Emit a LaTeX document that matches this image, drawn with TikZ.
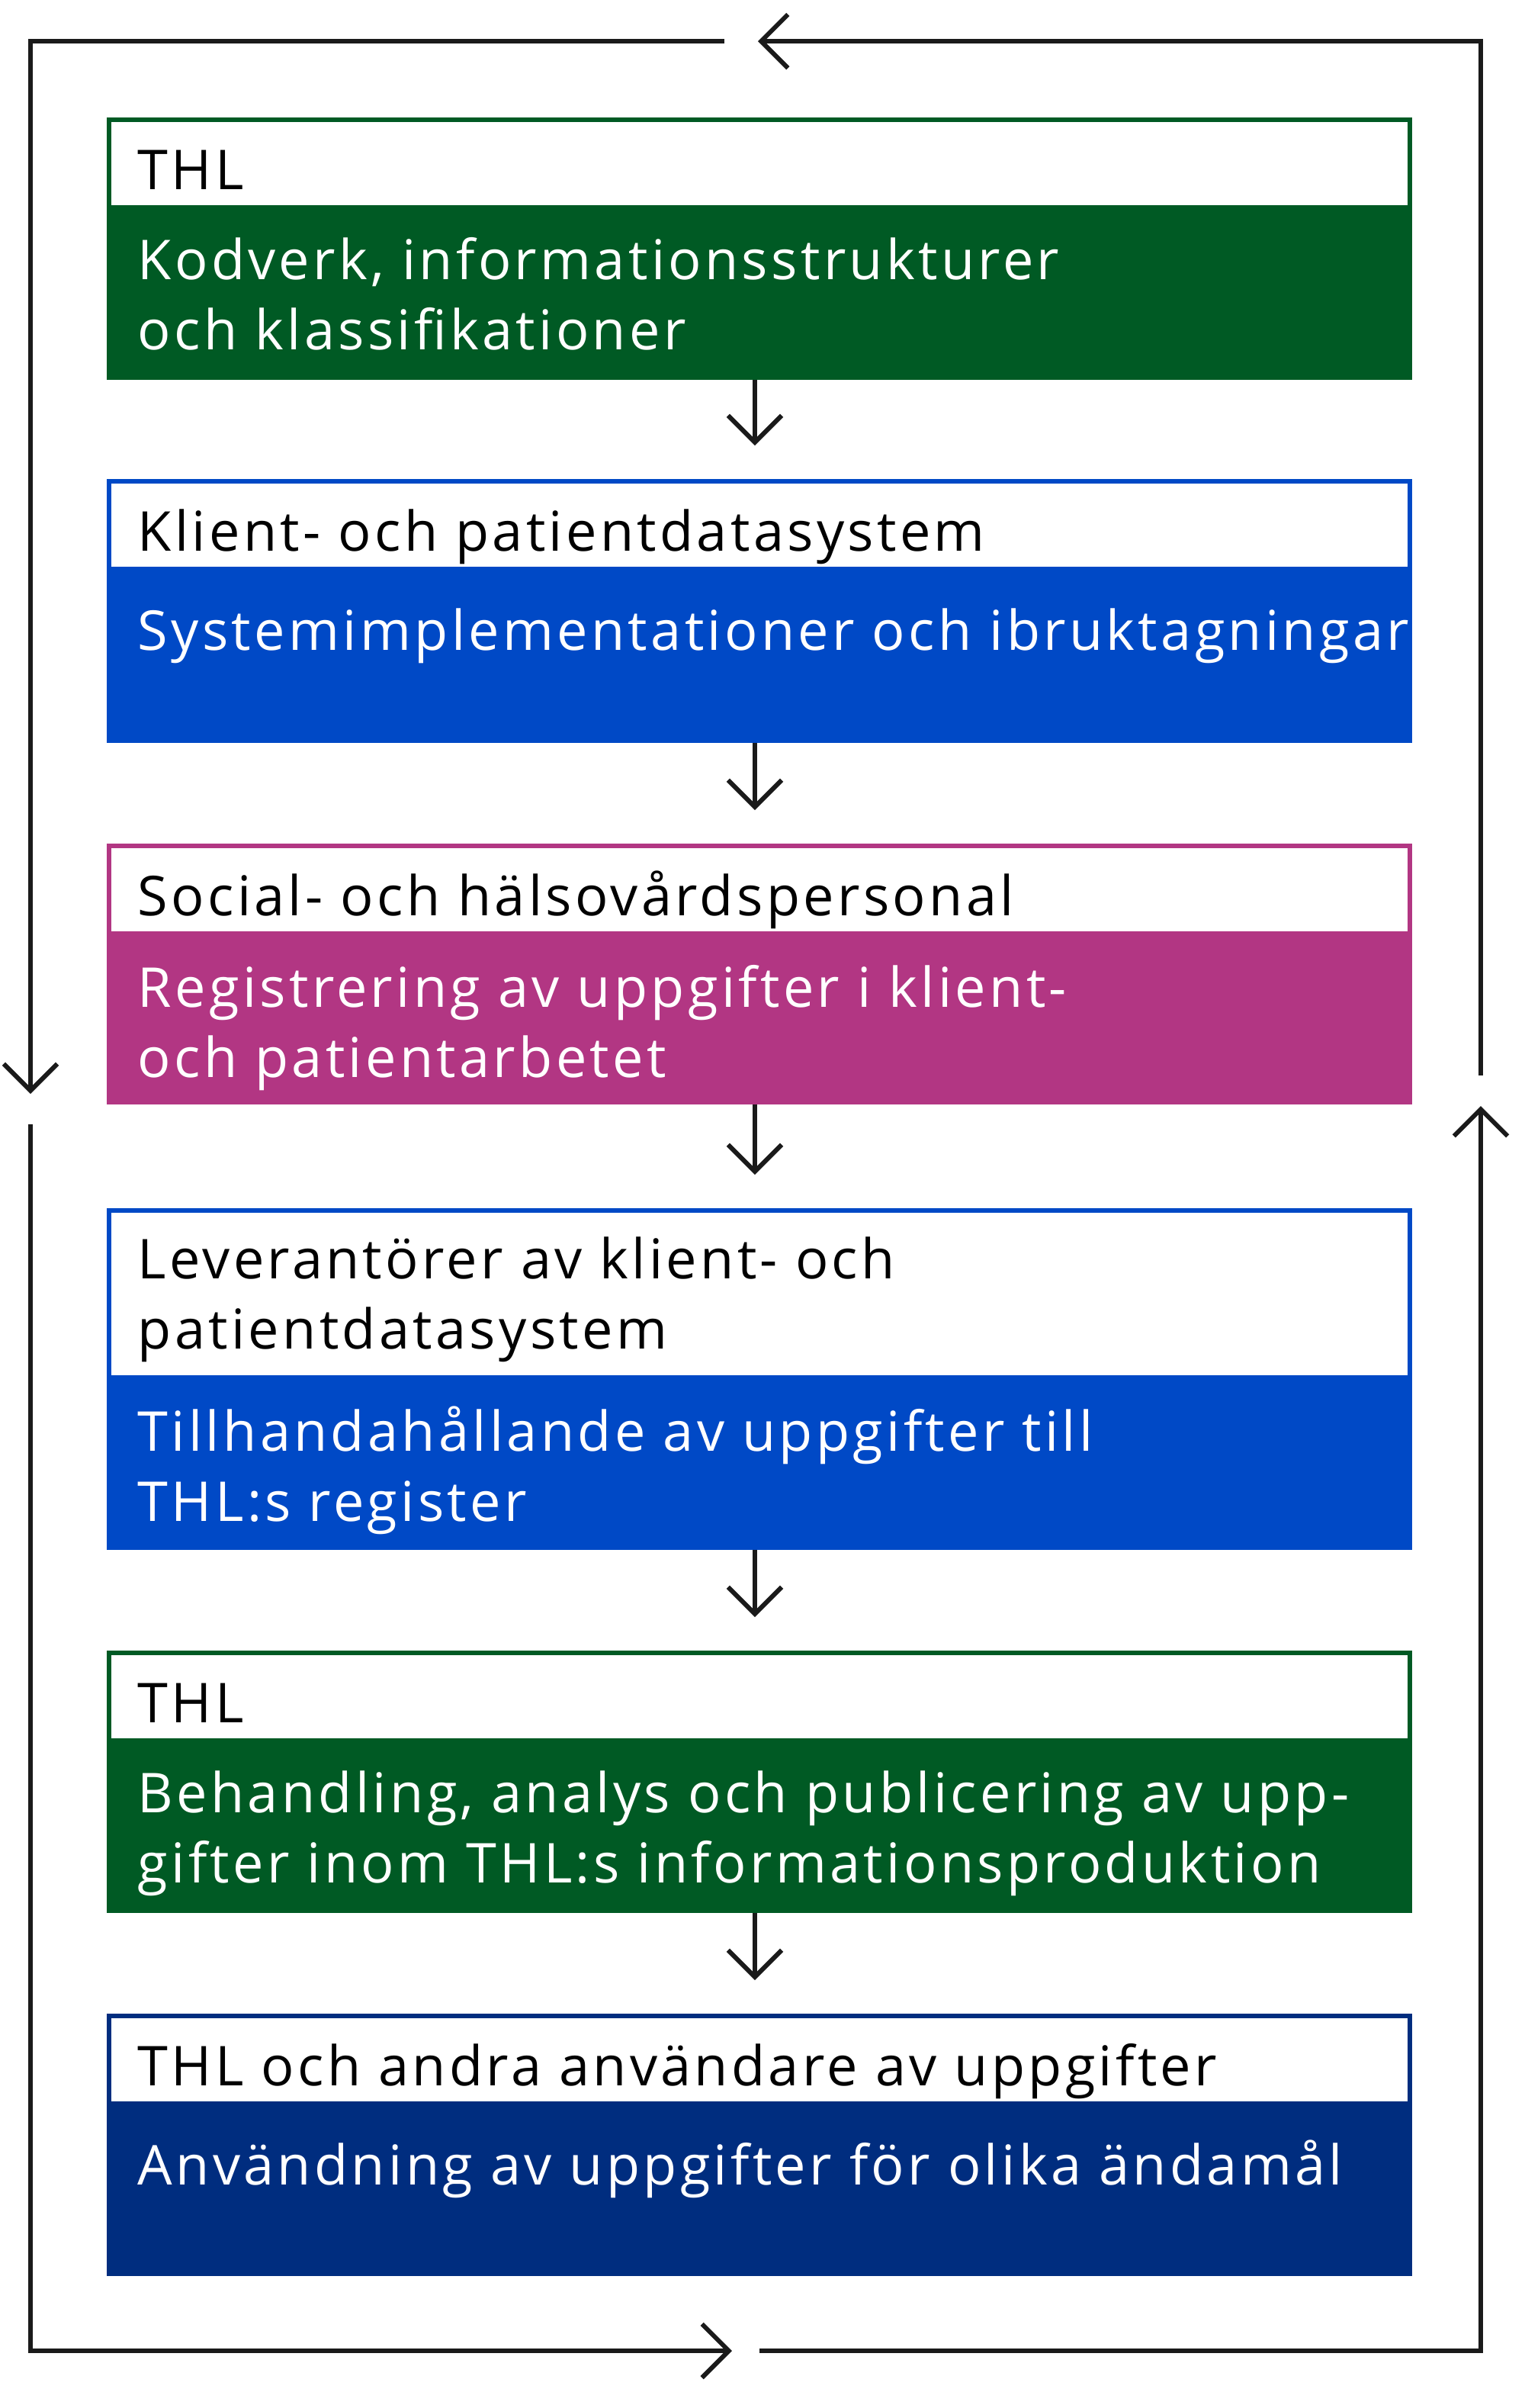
\documentclass[tikz,border=0pt]{standalone}
\usepackage{fontspec}
\setmainfont[LetterSpace=6]{Open Sans}
\usetikzlibrary{arrows.meta,calc}
\definecolor{cgreen}{HTML}{005A24}
\definecolor{cblue}{HTML}{0049C6}
\definecolor{cmag}{HTML}{B23683}
\definecolor{cnavy}{HTML}{002D7F}
\definecolor{cline}{HTML}{1A1A1A}
\begin{document}
\begin{tikzpicture}[x=0.02cm,y=-0.02cm,
  txt/.style={anchor=base west,inner sep=0pt,font=\fontsize{20.5}{26}\selectfont,align=left,text=#1},
  arr/.style={line width=1.7pt,draw=cline,-{Straight Barb[length=10pt,width=20pt,line width=1.7pt]}},
  loop/.style={line width=1.7pt,draw=cline}]
\useasboundingbox (0,0) rectangle (1000,1578.5);
\foreach \n/\t/\s/\b/\c in {1/77/136/249/cgreen,2/314/373/487/cblue,3/553/612/724/cmag,4/792/903/1016/cblue,5/1082/1141/1254/cgreen,6/1320/1379/1492/cnavy}{
  \fill[\c] (70,\s) rectangle (926,\b);
  \draw[\c,line width=1.7pt] (71.5,\t+1.5) rectangle (924.5,\s);
  \coordinate (top\n) at (495,\t);
  \coordinate (bot\n) at (495,\b);
}
\node[txt=black] (h1) at (90,124) {THL};
\node[txt=white] (b1) at (90,229) {Kodverk, informationsstrukturer\\och klassifikationer};
\node[txt=black] (h2) at (90,361) {Klient- och patientdatasystem};
\node[txt=white] (b2) at (90,426) {Systemimplementationer och ibruktagningar};
\node[txt=black] (h3) at (90,600) {Social- och hälsovårdspersonal};
\node[txt=white] (b3) at (90,706) {Registrering av uppgifter i klient-\\och patientarbetet};
\node[txt=black] (h4) at (90,884) {Leverantörer av klient- och\\patientdatasystem};
\node[txt=white] (b4) at (90,997) {Tillhandahållande av uppgifter till\\THL:s register};
\node[txt=black] (h5) at (90,1129) {THL};
\node[txt=white] (b5) at (90,1234) {Behandling, analys och publicering av upp-\\gifter inom THL:s informationsproduktion};
\node[txt=black] (h6) at (90,1367) {THL och andra användare av uppgifter};
\node[txt=white] (b6) at (90,1432) {Användning av uppgifter för olika ändamål};
\foreach \a/\b in {1/2,2/3,3/4,4/5,5/6}{
  \draw[arr] (bot\a) -- ($(top\b)+(0,-22)$);
}
\coordinate (tl) at (20,27); \coordinate (tr) at (971,27);
\coordinate (bl) at (20,1541); \coordinate (br) at (971,1541);
\draw[loop] (475,27) -- (tl) -- (20,690);
\draw[arr] (20,690) -- (20,717);
\draw[loop] (20,737) -- (bl) -- (455,1541);
\draw[arr] (455,1541) -- (480,1541);
\draw[loop] (498,1541) -- (br) -- (971,760);
\draw[arr] (971,760) -- (971,725);
\draw[loop] (971,705) -- (tr) -- (520,27);
\draw[arr] (520,27) -- (497,27);
\end{tikzpicture}
\end{document}
